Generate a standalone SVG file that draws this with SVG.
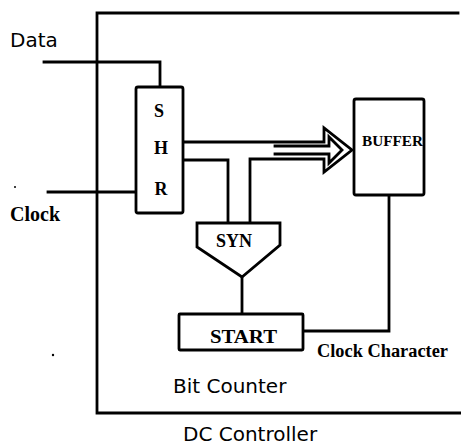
<svg xmlns="http://www.w3.org/2000/svg" width="461" height="447" viewBox="0 0 461 447">
<style>
.ln{fill:none;stroke:#000;stroke-width:2.8;stroke-linejoin:miter;stroke-linecap:square}
.bx{fill:#fff;stroke:#000;stroke-width:2.8}
.sans{font-family:"DejaVu Sans","Liberation Sans",sans-serif;font-size:20px;fill:#000}
.ser{font-family:"Liberation Serif","Times New Roman",serif;font-weight:bold;fill:#000}
</style>
<rect width="461" height="447" fill="#fff"/>
<g id="controller">
<path class="ln" d="M458,13 H97 V413 H461"/>
<text class="sans" x="183" y="441">DC Controller</text>
</g>
<g id="connectors">
<path class="ln" d="M44,62 H160 V87"/>
<path class="ln" d="M48,192 H136"/>
<path class="ln" d="M183,142 H324 V128 L352,150 L324,172 V159 H250 V223"/>
<path class="ln" d="M275,146 H329 V137 L342,150 L329,163 V154 H275" stroke-width="2"/>
<path class="ln" d="M183,160 H228 V223"/>
<path class="ln" d="M242,277 V314"/>
<path class="ln" d="M389,195 V331 H303"/>
</g>
<g id="shr">
<rect class="bx" x="136" y="87" width="47" height="126" rx="2"/>
<text class="ser" font-size="18" x="159" y="117" text-anchor="middle">S</text>
<text class="ser" font-size="18" x="161" y="154" text-anchor="middle">H</text>
<text class="ser" font-size="18" x="161" y="195" text-anchor="middle">R</text>
</g>
<g id="buffer">
<rect class="bx" x="354" y="99" width="70" height="96" rx="2"/>
<text class="ser" font-size="15" x="362" y="146" textLength="61" lengthAdjust="spacingAndGlyphs">BUFFER</text>
</g>
<g id="syn">
<path class="bx" d="M197,223 H280 V245 L242,277 L197,247 Z"/>
<text class="ser" font-size="18" x="234" y="247" text-anchor="middle">SYN</text>
</g>
<g id="start">
<rect class="bx" x="179" y="314" width="124" height="36" rx="1"/>
<text class="ser" font-size="19" x="210" y="343" textLength="67" lengthAdjust="spacingAndGlyphs">START</text>
</g>
<g id="labels">
<text class="sans" x="10" y="47">Data</text>
<text class="ser" font-size="20" x="10" y="221">Clock</text>
<text class="ser" font-size="18" x="317" y="357" textLength="131" lengthAdjust="spacingAndGlyphs">Clock Character</text>
<text class="sans" x="173" y="393">Bit Counter</text>
</g>
<circle cx="15" cy="187" r="1" fill="#000"/>
<circle cx="53" cy="355" r="1.2" fill="#000"/>
</svg>
